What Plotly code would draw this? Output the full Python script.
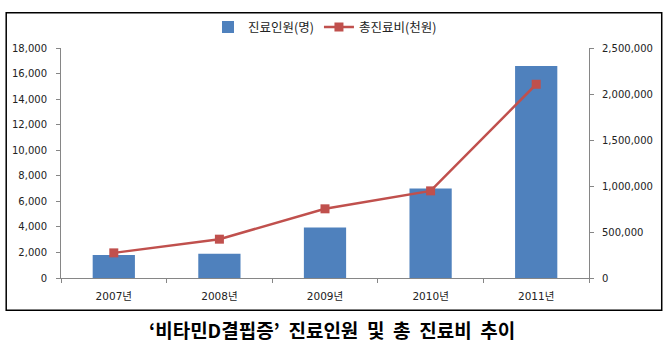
import plotly.graph_objects as go

years = ["2007년", "2008년", "2009년", "2010년", "2011년"]
patients = [1800, 1900, 3950, 7000, 16600]          # 진료인원(명)
costs = [273000, 422000, 752000, 947000, 2106000]   # 총진료비(천원)

left_ticks = list(range(0, 18001, 2000))
right_ticks = list(range(0, 2500001, 500000))

FONT = "DejaVu Sans, Noto Sans CJK KR"
KFONT = "Noto Sans CJK KR"
W, H = 668, 351
L, R, T, B = 59, 79, 43, 73
pw, ph = W - L - R, H - T - B

def px_to_paper_x(px):
    return (px - L) / pw

def px_to_paper_y(py):
    return (H - B - py) / ph

fig = go.Figure()
fig.add_trace(go.Bar(
    x=years, y=patients, name="진료인원(명)",
    marker=dict(color="#4F81BD", line=dict(width=0)),
    width=0.4, yaxis="y",
))
fig.add_trace(go.Scatter(
    x=years, y=costs, name="총진료비(천원)", mode="lines+markers",
    line=dict(color="#C0504D", width=2.5),
    marker=dict(symbol="square", size=9, color="#C0504D"),
    yaxis="y2",
))

axis_col = "#868686"
fig.update_layout(
    width=W, height=H,
    margin=dict(l=L, r=R, t=T, b=B),
    paper_bgcolor="white", plot_bgcolor="white",
    font=dict(family=FONT, size=10, color="#222"),
    showlegend=True,
    legend=dict(orientation="h", x=0.5, xanchor="center",
                y=px_to_paper_y(22), yanchor="middle",
                font=dict(family=KFONT, size=12.5, color="#222"),
                bgcolor="rgba(0,0,0,0)", itemwidth=30),
    xaxis=dict(showline=True, linecolor=axis_col, linewidth=1,
               ticks="outside", tickson="boundaries", ticklen=4,
               tickcolor=axis_col, showgrid=False, fixedrange=True,
               ticklabelstandoff=8,
               tickfont=dict(family=FONT, size=10.5)),
    yaxis=dict(range=[0, 18000], tickvals=left_ticks,
               ticktext=[f"{v:,}" for v in left_ticks],
               showline=True, linecolor=axis_col, linewidth=1,
               ticks="outside", ticklen=4, tickcolor=axis_col,
               ticklabelstandoff=7,
               showgrid=False, zeroline=False, tickfont=dict(size=10)),
    yaxis2=dict(range=[0, 2500000], tickvals=right_ticks,
                ticktext=[f"{v:,}" for v in right_ticks],
                overlaying="y", side="right",
                showline=True, linecolor=axis_col, linewidth=1,
                ticks="outside", ticklen=4, tickcolor=axis_col,
                ticklabelstandoff=6,
                showgrid=False, zeroline=False, tickfont=dict(size=10)),
    shapes=[dict(type="rect", xref="paper", yref="paper",
                 x0=px_to_paper_x(4), x1=px_to_paper_x(662),
                 y0=px_to_paper_y(311), y1=px_to_paper_y(7),
                 line=dict(color="black", width=1.5), layer="below")],
    annotations=[dict(text="‘비타민D결핍증’\u00a0 진료인원\u00a0 및\u00a0 총\u00a0 진료비\u00a0 추이",
                      xref="paper", yref="paper",
                      x=px_to_paper_x(331), y=px_to_paper_y(331),
                      xanchor="center", yanchor="middle", showarrow=False,
                      font=dict(family=KFONT, size=19, color="black",
                                weight="bold"))],
)

fig.write_html("out.html")
